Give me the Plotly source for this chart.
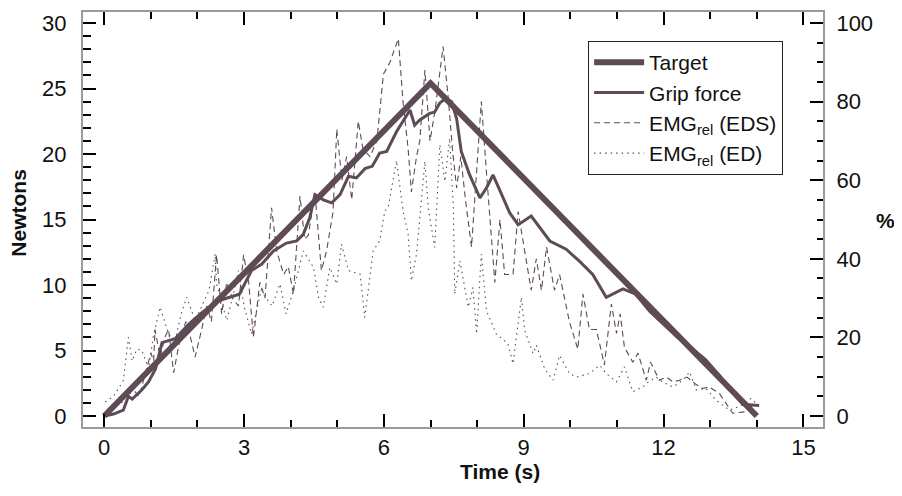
import plotly.graph_objects as go

# ---------------- data ----------------
target_t = [0, 7, 14]
target_n = [0, 25.4, 0]

grip_t = [0.0, 0.2, 0.41, 0.52, 0.6, 0.81, 0.95, 1.1, 1.24, 1.52, 1.81, 2.1, 2.45, 2.66, 2.9,
          3.16, 3.38, 3.63, 3.91, 4.13, 4.27, 4.41, 4.52, 4.7, 4.88, 5.06, 5.24, 5.41, 5.6, 5.75,
          5.91, 6.06, 6.27, 6.56, 6.66, 6.77, 6.98, 7.09, 7.2, 7.31, 7.45, 7.56, 7.66, 7.84, 8.06,
          8.2, 8.34, 8.49, 8.7, 8.88, 9.16, 9.56, 9.91, 10.2, 10.48, 10.77, 11.13, 11.4, 11.7, 12.0,
          12.3, 12.6, 12.9, 13.2, 13.5, 13.7, 14.05]
grip_n = [0.0, 0.15, 0.45, 1.5, 1.3, 2.0, 2.6, 3.6, 5.6, 5.9, 7.0, 7.9, 8.8, 9.06, 9.3,
          11.1, 11.6, 12.6, 13.2, 13.36, 13.87, 15.13, 16.9, 16.5, 16.27, 16.9, 18.3, 18.17, 18.9, 19.06,
          20.07, 20.2, 21.7, 23.36, 22.2, 22.6, 23.1, 23.2, 23.9, 24.2, 24.0, 22.7, 20.2, 18.4, 16.65,
          17.4, 18.4, 17.2, 15.5, 14.6, 15.26, 13.36, 12.73, 11.8, 10.8, 9.06, 9.7, 9.3, 8.0, 7.0,
          6.0, 5.2, 4.3, 3.1, 1.7, 0.9, 0.8]

eds_t = [0.0, 0.15, 0.3, 0.45, 0.6, 0.75, 0.9, 1.0, 1.06, 1.09, 1.2, 1.3, 1.38, 1.49, 1.6, 1.75,
         1.85, 1.95, 2.09, 2.2, 2.3, 2.41, 2.52, 2.63, 2.75, 2.88, 2.99, 3.1, 3.2, 3.34, 3.45, 3.59,
         3.7, 3.85, 3.95, 4.06, 4.2, 4.3, 4.38, 4.52, 4.66, 4.77, 4.91, 4.99, 5.1, 5.2, 5.31, 5.45,
         5.55, 5.7, 5.85, 5.99, 6.13, 6.31, 6.41, 6.52, 6.59, 6.7, 6.77, 6.88, 6.99, 7.1, 7.27, 7.38,
         7.47, 7.56, 7.65, 7.75, 7.88, 7.98, 8.09, 8.2, 8.3, 8.38, 8.49, 8.59, 8.77, 8.88, 9.02, 9.16,
         9.27, 9.38, 9.49, 9.66, 9.77, 9.98, 10.16, 10.27, 10.41, 10.56, 10.73, 10.88, 10.99, 11.07,
         11.16, 11.34, 11.45, 11.63, 11.72, 11.91, 12.06, 12.2, 12.34, 12.5, 12.7, 12.84, 12.98, 13.2,
         13.34, 13.48, 13.77, 13.95]
eds_pct = [0, 2, 4, 3, 7, 5, 12, 16, 14, 22, 15, 20, 22, 11, 18, 24,
           20, 15, 22, 28, 24, 41, 26, 34, 30, 28, 41, 34, 20, 34, 30, 53,
           42, 36, 38, 31, 56, 45, 46, 57, 37, 42, 52, 73, 60, 66, 55, 75,
           68, 66, 70, 87, 90, 96, 80, 68, 57, 66, 70, 88, 70, 78, 94, 81,
           68, 58, 66, 55, 43, 62, 80, 62, 45, 34, 50, 36, 36, 52, 42, 32,
           40, 32, 43, 32, 36, 24, 17, 31, 22, 22, 13, 28.5, 21, 26,
           17.5, 13.7, 16, 9.1, 13.7, 9.1, 9.9, 8.7, 9.1, 9.9, 8, 7, 7.4, 5.7,
           3.2, 0.7, 1.1, 3.2]

ed_t = [0.02, 0.2, 0.41, 0.45, 0.52, 0.6, 0.7, 0.81, 0.95, 1.05, 1.2, 1.35, 1.5, 1.65, 1.77, 1.95,
        2.1, 2.25, 2.38, 2.41, 2.63, 2.75, 2.88, 3.0, 3.16, 3.38, 3.41, 3.6, 3.77, 3.9, 4.06, 4.27,
        4.49, 4.6, 4.7, 4.84, 4.99, 5.09, 5.24, 5.49, 5.59, 5.77, 5.91, 6.02, 6.09, 6.27, 6.41, 6.52,
        6.59, 6.7, 6.88, 6.95, 7.09, 7.2, 7.31, 7.41, 7.49, 7.52, 7.63, 7.81, 7.91, 7.99, 8.09, 8.2,
        8.41, 8.66, 8.77, 8.95, 9.02, 9.2, 9.27, 9.45, 9.63, 9.77, 9.98, 10.13, 10.41, 10.63, 10.77,
        10.99, 11.16, 11.34, 11.56, 11.63, 11.84, 12.0, 12.2, 12.4, 12.56, 12.7, 12.91, 13.13, 13.41,
        13.63, 13.88, 14.0]
ed_pct = [3.6, 5, 9, 12.5, 20, 14, 17, 16.7, 12, 20, 27.7, 22, 18, 26, 30.2, 24.3,
          28, 32, 41.3, 33.6, 24.3, 30, 37, 28, 20.9, 32.7, 31, 28, 33.6, 26, 31.9, 42,
          37.8, 30, 27.7, 37.8, 33.6, 43.7, 37, 36.1, 25.1, 42, 44.6, 52.2, 53, 65, 52.2, 46.3,
          34.4, 41.2, 64.8, 53, 42.9, 69, 59.7, 70.7, 53, 31, 39.5, 27.7, 32.7, 20.9, 41.2, 26.8,
          20.9, 18.4, 13.3, 30.2, 21.8, 15.9, 18, 12, 9.1, 15.4, 10.8, 9.9, 10.8, 12.9, 10.8,
          8.7, 12.5, 6.2, 7.4, 8.3, 9.9, 8.5, 7.4, 9, 11.2, 6.6, 7, 4, 1.5,
          2.4, 4.5, 3]

x_ticks = [0, 3, 6, 9, 12, 15]
y_ticks = [0, 5, 10, 15, 20, 25, 30]
y2_ticks = [0, 20, 40, 60, 80, 100]

# ---------------- style ----------------
COL = "#5d4b56"
FONT = "Liberation Sans, Arial, sans-serif"
FRAME = "#9a9a9a"

fig = go.Figure()
fig.add_trace(go.Scatter(x=target_t, y=target_n, mode="lines", name="Target",
                         line=dict(color=COL, width=6)))
fig.add_trace(go.Scatter(x=grip_t, y=grip_n, mode="lines", name="Grip force",
                         line=dict(color=COL, width=3)))
fig.add_trace(go.Scatter(x=eds_t, y=eds_pct, mode="lines", name="EMG<sub>rel</sub> (EDS)",
                         yaxis="y2", line=dict(color=COL, width=1.1, dash="6px,4px")))
fig.add_trace(go.Scatter(x=ed_t, y=ed_pct, mode="lines", name="EMG<sub>rel</sub> (ED)",
                         yaxis="y2", line=dict(color=COL, width=1.1, dash="1.5px,4px")))

ylo, yhi = -0.84, 30.84
axis_common = dict(showgrid=False, zeroline=False, showline=True, linecolor=FRAME, linewidth=2,
                   ticks="inside", ticklen=13, tickwidth=2, tickcolor="black",
                   tickfont=dict(family=FONT, size=22, color="#111"))

fig.update_layout(
    width=902, height=496, autosize=False,
    margin=dict(l=75, r=87, t=2, b=77),
    paper_bgcolor="white", plot_bgcolor="white",
    font=dict(family=FONT, color="#111"),
    xaxis=dict(range=[-0.455, 15.42], tickvals=x_ticks, mirror="ticks",
               minor=dict(ticks="inside", ticklen=7, tickwidth=2, tickcolor="black", dtick=1, tick0=0),
               **axis_common),
    yaxis=dict(range=[ylo, yhi], tickvals=y_ticks, ticklabelstandoff=10,
               minor=dict(ticks="inside", ticklen=8, tickwidth=2, tickcolor="black", dtick=1, tick0=0),
               **axis_common),
    yaxis2=dict(range=[ylo * 100 / 30, yhi * 100 / 30], tickvals=y2_ticks, overlaying="y", side="right",
                ticklabelstandoff=7,
                minor=dict(ticks="inside", ticklen=6, tickwidth=2, tickcolor="black", dtick=5, tick0=0),
                **axis_common),
    legend=dict(x=0.6826, y=0.93, xanchor="left", yanchor="top",
                bordercolor="#222", borderwidth=1, bgcolor="white",
                font=dict(family=FONT, size=21, color="#111"), itemwidth=50),
    showlegend=True,
    annotations=[
        dict(text="<b>Newtons</b>", x=-0.0875, y=0.517, xref="paper", yref="paper",
             textangle=-90, showarrow=False, xanchor="center", yanchor="middle",
             font=dict(family=FONT, size=21, color="#111")),
        dict(text="<b>Time (s)</b>", x=0.5635, y=-0.108, xref="paper", yref="paper",
             showarrow=False, xanchor="center", yanchor="middle",
             font=dict(family=FONT, size=21, color="#111")),
        dict(text="<b>%</b>", x=1.085, y=0.4976, xref="paper", yref="paper",
             showarrow=False, xanchor="center", yanchor="middle",
             font=dict(family=FONT, size=21, color="#111")),
    ],
)

fig.write_html("out.html")
